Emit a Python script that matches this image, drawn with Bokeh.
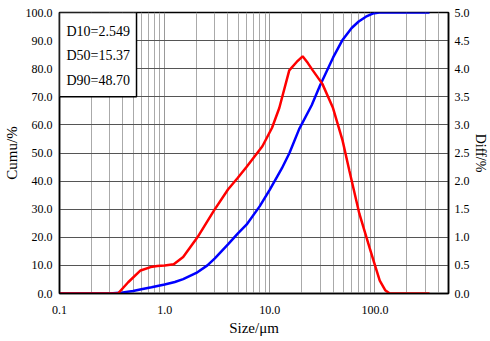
from bokeh.plotting import figure
from bokeh.models import (Range1d, LinearAxis, FixedTicker, CustomJSTickFormatter,
                          BoxAnnotation, Label)
from bokeh.embed import file_html
from bokeh.resources import INLINE

# ---- data ----
size_cum = [0.1, 0.2, 0.3, 0.4, 0.5, 0.6, 0.75, 1.0, 1.25, 1.5, 2.0, 2.549, 3.0, 4.0,
            5.0, 6.0, 8.0, 10.0, 13.0, 15.37, 19.0, 25.0, 30.0, 40.0, 48.7, 60.0, 70.0,
            82.0, 95.0, 110.0, 150.0, 200.0, 300.0, 330.0]
cum = [0, 0, 0, 0.4, 0.9, 1.5, 2.2, 3.2, 4.1, 5.1, 7.3, 10.0, 12.5, 17.5,
       21.5, 24.5, 31.0, 37.0, 44.5, 50.0, 58.5, 67.0, 74.0, 84.0, 90.0, 94.5, 96.8,
       98.5, 99.6, 100.0, 100.0, 100.0, 100.0, 100.0]

size_diff = [0.1, 0.2, 0.3, 0.36, 0.45, 0.59, 0.735, 0.85, 1.0, 1.22, 1.5, 2.05, 2.95,
             4.0, 4.92, 6.0, 8.5, 10.5, 12.3, 15.3, 18.0, 20.5, 23.0, 25.6, 31.6, 39.7,
             49.2, 57.0, 71.0, 88.6, 100.0, 111.0, 125.0, 138.0, 200.0, 330.0]
diff = [0, 0, 0, 0, 0.2, 0.41, 0.47, 0.49, 0.5, 0.52, 0.65, 1.0, 1.48,
        1.85, 2.05, 2.25, 2.62, 2.95, 3.3, 3.97, 4.12, 4.22, 4.1, 3.97, 3.73, 3.31,
        2.72, 2.19, 1.42, 0.82, 0.5, 0.23, 0.06, 0, 0, 0]

x_ticks = [0.1, 1.0, 10.0, 100.0]
cum_ticks = [0, 10, 20, 30, 40, 50, 60, 70, 80, 90, 100]
diff_ticks = [0.0, 0.5, 1.0, 1.5, 2.0, 2.5, 3.0, 3.5, 4.0, 4.5, 5.0]
stats = ["D10=2.549", "D50=15.37", "D90=48.70"]
stats_y = [93.2, 84.7, 75.8]

FONT = "Liberation Serif"

p = figure(width=490, height=341, x_axis_type="log",
           x_range=Range1d(0.1, 500), y_range=Range1d(0, 100),
           output_backend="svg", toolbar_location=None,
           min_border_left=59, min_border_right=42, min_border_top=12,
           min_border_bottom=48)
p.extra_y_ranges = {"diff": Range1d(0, 5)}

minor = [m * d for d in [0.1, 1, 10, 100] for m in range(2, 10)]
xt = FixedTicker(ticks=x_ticks, minor_ticks=minor)
p.xaxis.ticker = xt
p.xgrid.ticker = xt
p.xaxis.formatter = CustomJSTickFormatter(code="return tick.toFixed(1)")

yt = FixedTicker(ticks=cum_ticks)
p.yaxis.ticker = yt
p.ygrid.ticker = yt
p.yaxis.formatter = CustomJSTickFormatter(code="return tick.toFixed(1)")

right = LinearAxis(y_range_name="diff", ticker=FixedTicker(ticks=diff_ticks),
                   formatter=CustomJSTickFormatter(code="return tick.toFixed(1)"))
p.add_layout(right, "right")

p.xaxis.axis_label = "Size/\u03bcm"
p.yaxis.axis_label = "Cumu/%"
right.axis_label = "Diff/%"

for ax in [p.xaxis[0], p.yaxis[0], right]:
    ax.major_tick_line_color = None
    ax.minor_tick_line_color = None
    ax.major_tick_in = 0
    ax.major_tick_out = 0
    ax.minor_tick_in = 0
    ax.minor_tick_out = 0
    ax.axis_line_color = "black"
    ax.axis_line_width = 1.5
    ax.major_label_text_font = FONT
    ax.major_label_text_font_size = "12px"
    ax.major_label_text_color = "black"
    ax.axis_label_text_font = FONT
    ax.axis_label_text_font_size = "15px"
    ax.axis_label_text_font_style = "normal"
    ax.axis_label_text_color = "black"

p.xaxis.major_label_standoff = 12
p.xaxis.axis_label_standoff = 3
p.yaxis.major_label_standoff = 7
p.yaxis.axis_label_standoff = 3
right.major_label_standoff = 6
right.axis_label_standoff = 0
right.axis_label_text_font_size = "14px"

p.xgrid.grid_line_color = "#999999"
p.xgrid.minor_grid_line_color = "#aaaaaa"
p.xgrid.grid_line_width = 1
p.ygrid.grid_line_color = "#555555"
p.ygrid.grid_line_width = 1

p.outline_line_color = "black"
p.outline_line_width = 1.5
p.background_fill_color = "white"
p.border_fill_color = "white"

p.line(size_cum, cum, line_color="#0000ff", line_width=2.5)
p.line(size_diff, diff, line_color="#ff0000", line_width=2.5, y_range_name="diff")

p.add_layout(BoxAnnotation(left=0.1, right=0.54, bottom=70, top=100,
                           fill_color="white", fill_alpha=1.0,
                           line_color="black", line_width=1.5, line_alpha=1.0))
for t, yy in zip(stats, stats_y):
    p.add_layout(Label(x=0.1, y=yy, x_offset=7, text=t, text_baseline="middle",
                       text_font=FONT, text_font_size="14px", text_color="black"))

open("out.html", "w").write(file_html(p, INLINE))
